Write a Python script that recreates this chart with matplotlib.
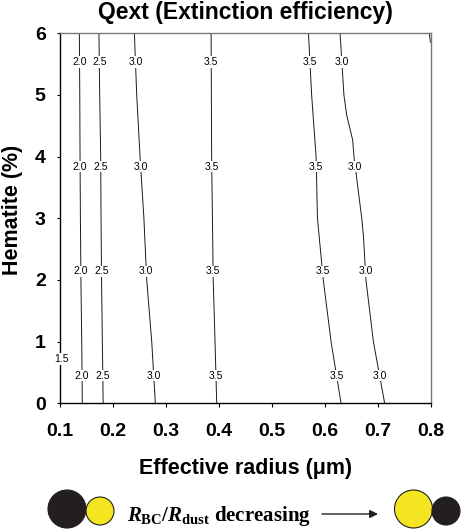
import numpy as np
import matplotlib
matplotlib.use('Agg')
import matplotlib.pyplot as plt
from matplotlib.patches import Circle

# --- Data (effective radius in um at each hematite level) ---
hematite = [0, 1, 2, 3, 4, 5, 6]

r_20 = [0.1416, 0.1405, 0.1390, 0.1380, 0.1373, 0.1368, 0.1360]
r_25 = [0.1810, 0.1795, 0.1780, 0.1770, 0.1763, 0.1745, 0.1730]
r_30a = [0.2796, 0.2728, 0.2633, 0.2580, 0.2507, 0.2444, 0.2400]
r_35a = [0.3956, 0.3924, 0.3890, 0.3875, 0.3860, 0.3855, 0.3850]
r_35b = [0.6306, 0.6117, 0.5970, 0.5860, 0.5834, 0.5750, 0.5690]

# right-hand 3.0 contour has a kink, so it keeps its own hematite points
hem_30b = [0, 1, 2, 2.7, 3, 4, 4.27, 4.67, 5, 6]
r_30b = [0.713, 0.6917, 0.6776, 0.6730, 0.6697, 0.6550, 0.6525, 0.6413, 0.6360, 0.6287]

# 1.5 contour runs along the left edge; tiny unlabelled piece in the top-right corner
hem_15 = [0, 1.4]
r_15 = [0.1, 0.1]
hem_corner = [6.0, 5.85]
r_corner = [0.7975, 0.7995]

contours = [
    ('2.0', r_20, hematite),
    ('2.5', r_25, hematite),
    ('3.0', r_30a, hematite),
    ('3.5', r_35a, hematite),
    ('3.5', r_35b, hematite),
    ('3.0', r_30b, hem_30b),
]
label_heights = [5.54, 3.84, 2.14, 0.45]

x_ticks = [0.1, 0.2, 0.3, 0.4, 0.5, 0.6, 0.7, 0.8]
y_ticks = [0, 1, 2, 3, 4, 5, 6]

W, H = 461, 530
fig = plt.figure(figsize=(W / 100, H / 100), dpi=100)
ax = fig.add_axes([60.3 / W, 1 - 403.3 / H, 370.4 / W, 370.0 / H])

sans = 'Liberation Sans'
line_kw = dict(color='#1a1a1a', lw=0.7, solid_capstyle='butt')
box = dict(facecolor='white', edgecolor='none', pad=0.6)

for label, r, h in contours:
    ax.plot(r, h, **line_kw)
    for hl in label_heights:
        xl = np.interp(hl, h, r)
        ax.text(xl, hl, label, ha='center', va='center', fontsize=7.5,
                family=sans, bbox=box, zorder=4)

ax.plot(r_15, hem_15, clip_on=False, zorder=1, **line_kw)
ax.text(0.1013, 0.72, '1.5', ha='center', va='center', fontsize=7.5,
        family=sans, bbox=box, zorder=4)
ax.plot(r_corner, hem_corner, **line_kw)

ax.set_xlim(0.1, 0.8)
ax.set_ylim(0, 6)
ax.set_xticks(x_ticks)
ax.set_yticks(y_ticks)
ax.set_xticklabels([f'{v:.1f}' for v in x_ticks], fontsize=14,
                   fontweight='bold', family=sans)
ax.set_yticklabels([str(v) for v in y_ticks], fontsize=14,
                   fontweight='bold', family=sans)
ax.tick_params(axis='x', direction='out', length=3, width=0.8, pad=11)
ax.tick_params(axis='y', direction='out', length=2.5, width=0.8, pad=8)

for side in ['top', 'right']:
    ax.spines[side].set_color('#7a7a7a')
for side in ['left', 'bottom']:
    ax.spines[side].set_color('black')
for sp in ax.spines.values():
    sp.set_linewidth(1.0)

ax.set_title('Qext (Extinction efficiency)', fontsize=16.5, fontweight='bold',
             family=sans, pad=10)
ax.set_xlabel('Effective radius (\u03bcm)', fontsize=15.5, fontweight='bold',
              family=sans)
ax.xaxis.set_label_coords(0.5, -0.148)
ax.set_ylabel('Hematite (%)', fontsize=15.5, fontweight='bold', family=sans)
ax.yaxis.set_label_coords(-0.102, 0.522)

# --- Bottom schematic: particle sketch in pixel coordinates ---
sk = fig.add_axes([0, 0, 1, 1], zorder=-1)
sk.set_xlim(0, W)
sk.set_ylim(H, 0)
sk.axis('off')

black = '#231f20'
yellow = '#f3e620'
sk.add_patch(Circle((67, 509), 19, facecolor=black, edgecolor=black, lw=0.8))
sk.add_patch(Circle((100, 511), 14, facecolor=yellow, edgecolor=black, lw=0.8))
sk.add_patch(Circle((413.5, 509), 19, facecolor=yellow, edgecolor=black, lw=0.8))
sk.add_patch(Circle((446, 511), 14, facecolor=black, edgecolor=black, lw=0.8))

plt.rcParams['mathtext.fontset'] = 'custom'
plt.rcParams['mathtext.rm'] = 'Liberation Serif:bold'
plt.rcParams['mathtext.it'] = 'Liberation Serif:italic:bold'
plt.rcParams['mathtext.bf'] = 'Liberation Serif:bold'
sk.text(127, 521.5, r'$R_{\rm BC}/R_{\rm dust}$ decreasing', fontsize=15,
        fontweight='bold', family='Liberation Serif', ha='left', va='baseline')
sk.annotate('', xy=(378, 514), xytext=(322, 514),
            arrowprops=dict(arrowstyle='-|>', color=black, lw=1.0,
                            mutation_scale=12, shrinkA=0, shrinkB=0))

fig.savefig('out.png', dpi=100)
